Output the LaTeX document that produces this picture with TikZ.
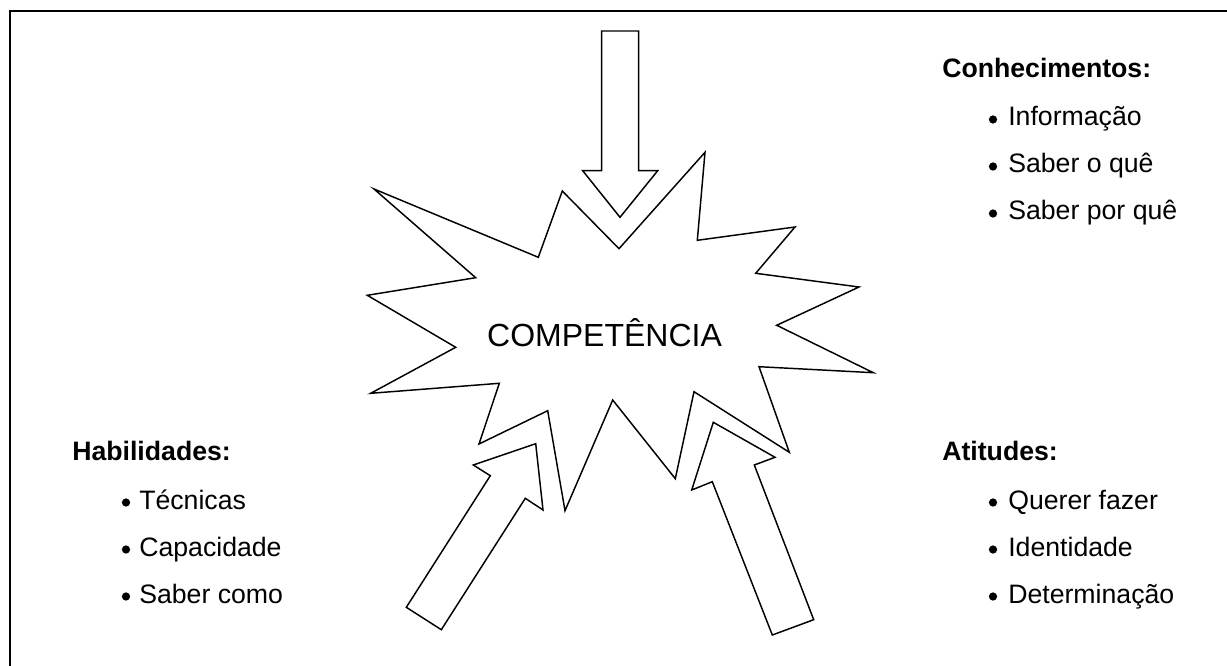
\documentclass[tikz,border=0pt]{standalone}
\usepackage{fontspec}
\setmainfont{Liberation Sans}
\begin{document}
\begin{tikzpicture}[x=0.75pt,y=-0.75pt,
  outline/.style={draw=black,line width=1.1pt,line join=miter,fill=white},
  heading/.style={anchor=base west,inner sep=0pt,font=\fontsize{20pt}{24pt}\selectfont\bfseries},
  item/.style={anchor=base west,inner sep=0pt,font=\fontsize{20pt}{24pt}\selectfont},
  dot/.style={circle,fill=black,inner sep=0pt,minimum size=6.2pt}]
\useasboundingbox (0,0) rectangle (1227,666);

% open frame
\draw[line width=1.6pt] (1227,11) -- (10,11) -- (10,666);

% burst
\draw[outline] (374,189) -- (538.3,257.3) -- (562.3,191) -- (619,248.7) -- (705,152.3)
  -- (697.3,240.3) -- (795,227) -- (755.7,273.3) -- (859,287) -- (776.7,325.3)
  -- (873.3,372.7) -- (759,366.7) -- (789.3,452.3) -- (694,391.7) -- (675.3,478.7)
  -- (612.7,400) -- (565,510.7) -- (547.7,410.7) -- (479,444) -- (499.3,383.3)
  -- (370.7,393.3) -- (455.7,347.3) -- (367.3,295.3) -- (475.7,277.7) -- cycle;

\node[anchor=base,inner sep=0pt,font=\fontsize{24pt}{28pt}\selectfont] (comp) at (604.5,347) {COMPETÊNCIA};

% block arrows
\draw[outline] (601.7,31) -- (638.7,31) -- (638.7,170.7) -- (657.7,170.7) -- (620,217.3)
  -- (582.7,170.7) -- (601.7,170.7) -- cycle;
\draw[outline] (535.7,443.7) -- (543,510) -- (525.3,498.3) -- (441.3,629.7) -- (406.3,607.3)
  -- (490.3,475.7) -- (473.3,465) -- cycle;
\draw[outline] (713.3,422.3) -- (775,457.3) -- (754.3,465) -- (813.7,619.7) -- (772.3,635)
  -- (712.3,481.7) -- (691.7,490) -- cycle;

% Conhecimentos
\node[heading] (kh) at (942,78) {Conhecimentos:};
\node[dot] (k1d) at (993,119.5) {};
\node[item] (k1) at (1008,126) {Informação};
\node[dot] (k2d) at (993,166.5) {};
\node[item] (k2) at (1008,173) {Saber o quê};
\node[dot] (k3d) at (993,213.5) {};
\node[item] (k3) at (1008,220) {Saber por quê};

% Habilidades
\node[heading] (hh) at (72,460) {Habilidades:};
\node[dot] (h1d) at (126,502.5) {};
\node[item] (h1) at (139,509) {Técnicas};
\node[dot] (h2d) at (126,549.5) {};
\node[item] (h2) at (139,556) {Capacidade};
\node[dot] (h3d) at (126,596.5) {};
\node[item] (h3) at (139,603) {Saber como};

% Atitudes
\node[heading] (ah) at (942,460) {Atitudes:};
\node[dot] (a1d) at (993,502.5) {};
\node[item] (a1) at (1008,509) {Querer fazer};
\node[dot] (a2d) at (993,549.5) {};
\node[item] (a2) at (1008,556) {Identidade};
\node[dot] (a3d) at (993,596.5) {};
\node[item] (a3) at (1008,603) {Determinação};
\end{tikzpicture}
\end{document}
